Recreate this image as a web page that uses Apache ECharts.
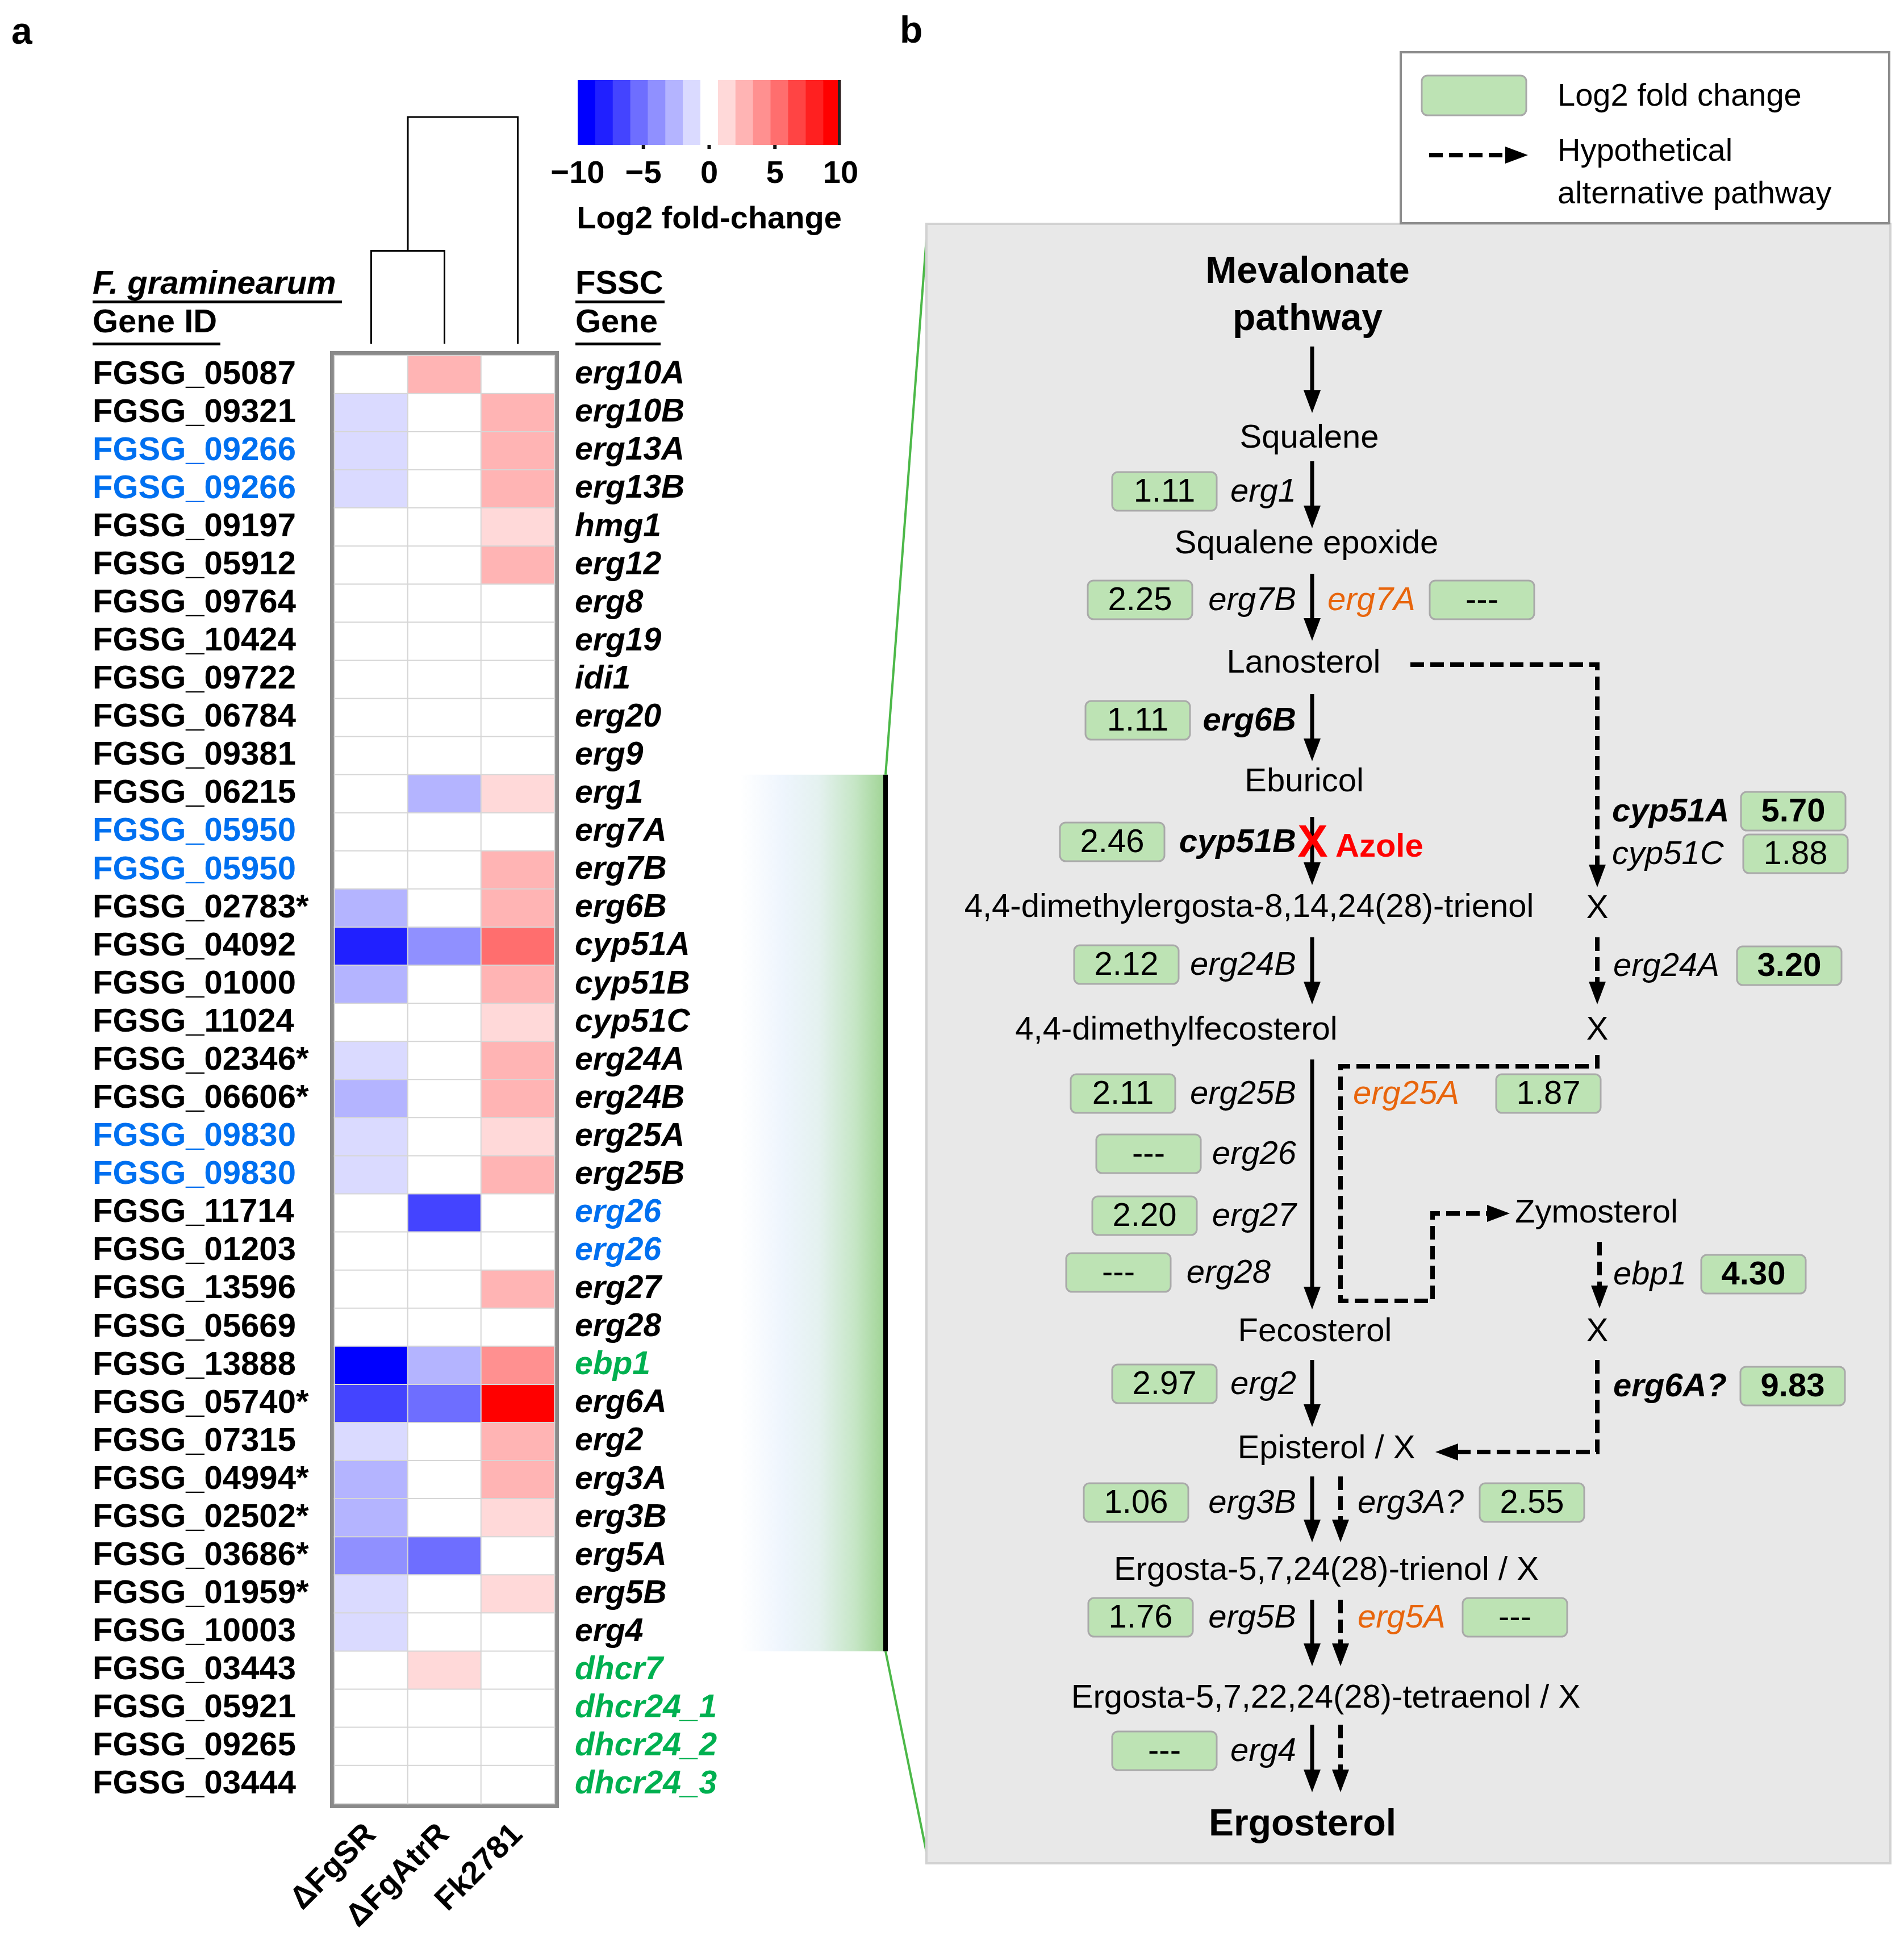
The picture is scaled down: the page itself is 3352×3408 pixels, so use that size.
<!DOCTYPE html>
<html><head><meta charset="utf-8">
<script src="https://cdn.jsdelivr.net/npm/echarts@6/dist/echarts.min.js"></script>
<style>html,body{margin:0;padding:0;background:#fff}#c{width:3352px;height:3408px}</style>
</head><body><div id="c"></div>
<script>
// ---------------- DATA ----------------
const conditions = ['ΔFgSR', 'ΔFgAtrR', 'Fk2781'];
const geneIds = ['FGSG_05087','FGSG_09321','FGSG_09266','FGSG_09266','FGSG_09197','FGSG_05912','FGSG_09764','FGSG_10424','FGSG_09722','FGSG_06784','FGSG_09381','FGSG_06215','FGSG_05950','FGSG_05950','FGSG_02783*','FGSG_04092','FGSG_01000','FGSG_11024','FGSG_02346*','FGSG_06606*','FGSG_09830','FGSG_09830','FGSG_11714','FGSG_01203','FGSG_13596','FGSG_05669','FGSG_13888','FGSG_05740*','FGSG_07315','FGSG_04994*','FGSG_02502*','FGSG_03686*','FGSG_01959*','FGSG_10003','FGSG_03443','FGSG_05921','FGSG_09265','FGSG_03444'];
const geneNames = ['erg10A','erg10B','erg13A','erg13B','hmg1','erg12','erg8','erg19','idi1','erg20','erg9','erg1','erg7A','erg7B','erg6B','cyp51A','cyp51B','cyp51C','erg24A','erg24B','erg25A','erg25B','erg26','erg26','erg27','erg28','ebp1','erg6A','erg2','erg3A','erg3B','erg5A','erg5B','erg4','dhcr7','dhcr24_1','dhcr24_2','dhcr24_3'];
// rows whose gene ID is shown in blue (shared IDs), gene names in blue / green
const sharedIdRows = [2,3,12,13,20,21];
const duplicatedNameRows = [22,23];
const sterolReductaseRows = [26,34,35,36,37];
// log2 fold-change values
const lfcSR   = [0,-1.4,-1.4,-1.4,0,0,0,0,0,0,0,0,0,0,-2.7,-8.0,-2.7,0,-1.4,-2.7,-1.4,-1.4,0,0,0,0,-9.4,-6.7,-1.4,-2.7,-2.7,-4.0,-1.4,-1.4,0,0,0,0];
const lfcAtrR = [2.6,0,0,0,0,0,0,0,0,0,0,-2.7,0,0,0,-4.0,0,0,0,0,0,0,-6.7,0,0,0,-2.7,-5.3,0,0,0,-5.3,0,0,1.4,0,0,0];
const lfcFk   = [0,2.6,2.6,2.6,1.3,2.6,0,0,0,0,0,1.11,0,2.25,2.4,5.70,2.46,1.88,3.20,2.12,1.87,2.11,0,0,2.20,0,4.30,9.83,2.97,2.55,1.06,0,1.76,0,0,0,0,0];
// highlighted block (erg1 .. erg4)
const pathwayBlock = [11, 33];
// dendrogram merges: left position, right position, merge height, left child height, right child height
const dendroLeft = [0, 0.5];
const dendroRight = [1, 2];
const dendroHeight = [0.41, 1.0];
const dendroLeftH = [0, 0.41];
const dendroRightH = [0, 0];
// colour scale
const scaleTicks = [-10, -5, 0, 5, 10];
const scaleInnerTicks = [-5, 0, 5];
const scaleSteps = 15;

// pathway panel content
const metaboliteNames = ['Mevalonate','pathway','Squalene','Squalene epoxide','Lanosterol','Eburicol','4,4-dimethylergosta-8,14,24(28)-trienol','X','4,4-dimethylfecosterol','X','Zymosterol','Fecosterol','X','Episterol / X','Ergosta-5,7,24(28)-trienol / X','Ergosta-5,7,22,24(28)-tetraenol / X','Ergosterol'];
const pathwayGenes = ['erg1','erg7B','erg7A','erg6B','cyp51B','cyp51A','cyp51C','erg24B','erg24A','erg25B','erg25A','erg26','erg27','erg28','ebp1','erg2','erg6A?','erg3B','erg3A?','erg5B','erg5A','erg4'];
const pathwayFC = [1.11,2.25,null,1.11,2.46,5.70,1.88,2.12,3.20,2.11,1.87,null,2.20,null,4.30,2.97,9.83,1.06,2.55,1.76,null,null];

// ---------------- LAYOUT / STYLE ----------------
const FONT = '"Liberation Sans", Arial, sans-serif';
const fnt = (size, bold, italic) => `${italic ? 'italic ' : ''}${bold ? 'bold ' : ''}${size}px ${FONT}`;
const blueC = '#0070F0', greenC = '#00B050', orangeC = '#E8650C';
const blues = ['#0000ff','#2020ff','#4444ff','#6e6eff','#9090ff','#b4b4ff','#dadaff'];
const reds = ['#ffd9d9','#ffb4b4','#ff9090','#ff6e6e','#ff4444','#ff2020','#ff0000'];
const stepColors = blues.concat(['#ffffff'], reds);
const stepW = 20 / scaleSteps;
const pieces = stepColors.map((c, k) => {
  const p = {color: c};
  if (k > 0) p.gte = -10 + k * stepW;
  if (k < scaleSteps - 1) p.lt = -10 + (k + 1) * stepW;
  return p;
});

// metabolite layout [x, y, align, bold]
const metaboliteLayout = [
  [2302,480,'center',true],[2302,563,'center',true],[2305,772,'center'],[2300,958,'center'],[2295,1168,'center'],
  [2296,1377,'center'],[2199,1598,'center'],[2812,1600,'center'],[2071,1814,'center'],[2812,1814,'center'],
  [2667,2136,'left'],[2315,2345,'center'],[2812,2345,'center'],[2335,2551,'center'],[2335,2765,'center'],
  [2334,2990,'center'],[2293,3213,'center',true]
];
// enzyme layout [boxCx, cy, labelX, labelAlign, labelBold, valueBold, orange]
const enzymeLayout = [
  [2050,865,2282,'right'],[2007,1056,2282,'right'],[2609,1056,2337,'left',0,0,1],[2003,1268,2282,'right',1],
  [1958,1482,2282,'right',1],[3157,1428,2838,'left',1,1],[3161,1503,2838,'left'],[1983,1698,2282,'right'],
  [3150,1700,2840,'left',0,1],[1977,1925,2282,'right'],[2726,1925,2382,'left',0,0,1],[2022,2031,2282,'right'],
  [2015,2140,2282,'right'],[1969,2240,2237,'right'],[3087,2243,2840,'left',0,1],[2050,2436,2282,'right'],
  [3156,2440,2840,'left',1,1],[2000,2645,2282,'right'],[2697,2645,2390,'left'],[2008,2847,2282,'right'],
  [2667,2847,2390,'left',0,0,1],[2050,3082,2282,'right']
];
const mainX = 2310, altX = 2360;
const solidArrows = [[610,727],[812,930],[1010,1128],[1222,1340],[1438,1558],[1650,1768],[1865,2305],[2394,2512],[2599,2715],[2816,2933],[3036,3155]];
const parallelDashed = [[2599,2715],[2816,2933],[3036,3155]];
const dashedPaths = [
  [[2483,1170],[2812,1170],[2812,1562]],
  [[2812,1650],[2812,1768]],
  [[2812,1857],[2812,1877],[2360,1877],[2360,2290],[2522,2290],[2522,2136],[2658,2136]],
  [[2816,2186],[2816,2303]],
  [[2812,2394],[2812,2556],[2527,2556]]
];
const panel = {x0:1631, y0:394, x1:3328, y1:3280};

// ---------------- BUILD DIAGRAM ITEMS ----------------
const items = [];
items.push({k:'panel'});
items.push({k:'legend'});
solidArrows.forEach(a => items.push({k:'arrow', pts:[[mainX,a[0]],[mainX,a[1]]], dashed:false}));
parallelDashed.forEach(a => items.push({k:'arrow', pts:[[altX,a[0]],[altX,a[1]]], dashed:true}));
dashedPaths.forEach(p => items.push({k:'arrow', pts:p, dashed:true}));
metaboliteNames.forEach((n, i) => items.push({k:'met', i}));
pathwayGenes.forEach((g, i) => items.push({k:'enz', i}));
items.push({k:'azole'});

function arrowEls(api, pts, dashed) {
  const p = pts.map(q => api.coord(q));
  const n = p.length, a = p[n - 2], b = p[n - 1];
  const dx = b[0] - a[0], dy = b[1] - a[1], L = Math.hypot(dx, dy);
  const d = [dx / L, dy / L];
  const HL = 40, HW = 30;
  const line = p.slice(0, n - 1).concat([[b[0] - d[0] * (HL - 6), b[1] - d[1] * (HL - 6)]]);
  const bx = b[0] - d[0] * HL, by = b[1] - d[1] * HL, px = -d[1], py = d[0];
  return [
    {type:'polyline', shape:{points:line}, style:{stroke:'#000', lineWidth: dashed ? 8 : 7, lineDash: dashed ? [24, 11] : null, fill:null}},
    {type:'polygon', shape:{points:[b, [bx + px * HW / 2, by + py * HW / 2], [bx - px * HW / 2, by - py * HW / 2]]}, style:{fill:'#000'}}
  ];
}
function textEl(api, x, y, text, o) {
  const c = api.coord([x, y]);
  return {type:'text', x:c[0], y:c[1], style:{text, fill:o.color || '#000', font:fnt(o.size || 58, o.bold, o.italic),
    textAlign:o.align || 'center', textVerticalAlign:'middle', align:o.align || 'center', verticalAlign:'middle'}};
}
function boxEl(api, cx, cy, w, h) {
  const c = api.coord([cx - w / 2, cy - h / 2]);
  return {type:'rect', shape:{x:c[0], y:c[1], width:w, height:h, r:10}, style:{fill:'#bde3b4', stroke:'#a9a9a9', lineWidth:3}};
}
function renderDiagram(params, api) {
  const it = items[params.dataIndex];
  let ch = [];
  if (it.k === 'panel') {
    const a = api.coord([panel.x0, panel.y0]), b = api.coord([panel.x1, panel.y1]);
    ch.push({type:'rect', shape:{x:a[0], y:a[1], width:b[0] - a[0], height:b[1] - a[1]}, style:{fill:'#e8e8e8', stroke:'#d2d2d2', lineWidth:4}});
  } else if (it.k === 'legend') {
    const a = api.coord([2466, 92]), b = api.coord([3326, 393]);
    ch.push({type:'rect', shape:{x:a[0], y:a[1], width:b[0] - a[0], height:b[1] - a[1]}, style:{fill:'#fff', stroke:'#8c8c8c', lineWidth:4}});
    ch.push(boxEl(api, 2595, 168, 184, 70));
    ch.push(textEl(api, 2742, 171, 'Log2 fold change', {align:'left', size:56}));
    ch = ch.concat(arrowEls(api, [[2516, 273], [2690, 273]], true));
    ch.push(textEl(api, 2742, 268, 'Hypothetical', {align:'left', size:56}));
    ch.push(textEl(api, 2742, 343, 'alternative pathway', {align:'left', size:56}));
  } else if (it.k === 'arrow') {
    ch = arrowEls(api, it.pts, it.dashed);
  } else if (it.k === 'met') {
    const L = metaboliteLayout[it.i];
    ch.push(textEl(api, L[0], L[1], metaboliteNames[it.i], {align:L[2], bold:L[3], size:L[3] ? 66 : 58}));
  } else if (it.k === 'enz') {
    const L = enzymeLayout[it.i];
    const v = pathwayFC[it.i];
    ch.push(boxEl(api, L[0], L[1], 184, 68));
    ch.push(textEl(api, L[0], L[1] + 2, v == null ? '---' : v.toFixed(2), {bold:!!L[5], size:58}));
    ch.push(textEl(api, L[2], L[1] + 2, pathwayGenes[it.i], {align:L[3], italic:true, bold:!!L[4], color:L[6] ? orangeC : '#000', size:58}));
  } else if (it.k === 'azole') {
    ch.push(textEl(api, 2311, 1486, 'X', {bold:true, size:80, color:'#ff0000'}));
    ch.push(textEl(api, 2351, 1492, 'Azole', {bold:true, size:58, color:'#ff0000', align:'left'}));
  }
  return {type:'group', children:ch};
}

// highlighted-block band and connector lines (on heatmap coordinates)
function renderBand(params, api) {
  const s = api.value(1), e = api.value(2);
  const cs = api.coord([2, s]), ce = api.coord([2, e]);
  const sz = api.size([1, 1]);
  const top = cs[1] - sz[1] / 2, bot = ce[1] + sz[1] / 2;
  const right = cs[0] + sz[0] / 2;
  const barX = right + 579, bandX = right + 327;
  return {type:'group', children:[
    {type:'rect', shape:{x:bandX, y:top, width:barX - bandX, height:bot - top},
      style:{fill:new echarts.graphic.LinearGradient(0, 0, 1, 0, [
        {offset:0, color:'rgba(255,255,255,1)'}, {offset:0.3, color:'#eef5fd'}, {offset:0.55, color:'#e4f1ef'},
        {offset:0.8, color:'#c6e6c6'}, {offset:1, color:'#a2d597'}])}},
    {type:'rect', shape:{x:barX, y:top, width:8, height:bot - top}, style:{fill:'#000'}},
    {type:'line', shape:{x1:barX + 4, y1:top, x2:panel.x0 + 2, y2:panel.y0}, style:{stroke:'#4cb848', lineWidth:4}},
    {type:'line', shape:{x1:barX + 4, y1:bot, x2:panel.x0 + 4, y2:panel.y1}, style:{stroke:'#4cb848', lineWidth:4}}
  ]};
}

function renderDendro(params, api) {
  const pts = [[api.value(0), api.value(3)], [api.value(0), api.value(2)], [api.value(1), api.value(2)], [api.value(1), api.value(4)]].map(p => api.coord(p));
  return {type:'polyline', shape:{points:pts}, style:{stroke:'#000', lineWidth:3, fill:null}};
}

function renderScale(params, api) {
  const k = api.value(0);
  const lo = -10 + k * stepW, hi = lo + stepW;
  const a = api.coord([lo, 1]), b = api.coord([hi, 0]);
  const ch = [{type:'rect', shape:{x:a[0], y:a[1], width:b[0] - a[0] + 0.6, height:b[1] - a[1]}, style:{fill:stepColors[k]}}];
  if (k === scaleSteps - 1) ch.push({type:'rect', shape:{x:b[0] - 5, y:a[1], width:5, height:b[1] - a[1]}, style:{fill:'#1a2a2a'}});
  return {type:'group', children:ch};
}
function renderScaleTick(params, api) {
  const p = api.coord([api.value(0), 0]);
  return {type:'rect', shape:{x:p[0] - 3, y:p[1], width:6, height:7}, style:{fill:'#111'}};
}

// heatmap data
const cols = [lfcSR, lfcAtrR, lfcFk];
const heatData = [];
cols.forEach((arr, c) => arr.forEach((v, r) => heatData.push([c, r, v])));

const baseLabel = {fontFamily:FONT, fontWeight:'bold', color:'#000'};
const richK = (size, italic) => ({
  k:{color:'#000', fontSize:size, fontWeight:'bold', fontStyle:italic ? 'italic' : 'normal', fontFamily:FONT},
  b:{color:blueC, fontSize:size, fontWeight:'bold', fontStyle:italic ? 'italic' : 'normal', fontFamily:FONT},
  g:{color:greenC, fontSize:size, fontWeight:'bold', fontStyle:italic ? 'italic' : 'normal', fontFamily:FONT}
});

const option = {
  backgroundColor:'#fff',
  animation:false,
  grid:[
    {left:589, top:626, width:387, height:2549, show:true, borderColor:'#8a8a8a', borderWidth:16, backgroundColor:'transparent', containLabel:false, outerBoundsMode:'none'},
    {left:589, top:206, width:387, height:399, containLabel:false, outerBoundsMode:'none'},
    {left:1017, top:141, width:463, height:114, containLabel:false, outerBoundsMode:'none'},
    {left:0, top:0, width:3352, height:3408, containLabel:false, outerBoundsMode:'none'}
  ],
  xAxis:[
    {gridIndex:0, type:'category', data:conditions, position:'bottom', axisLine:{show:false}, axisTick:{show:false}, splitLine:{show:false},
      axisLabel:Object.assign({}, baseLabel, {interval:0, rotate:45, margin:46, fontSize:56})},
    {gridIndex:1, type:'value', min:-0.5, max:2.5, show:false},
    {gridIndex:2, type:'value', min:-10, max:10, interval:5, axisLine:{show:false}, axisTick:{show:false}, splitLine:{show:false},
      axisLabel:Object.assign({}, baseLabel, {fontSize:56, margin:24, formatter:v => String(v).replace('-', '\u2212')}),
      name:'Log2 fold-change', nameLocation:'middle', nameGap:104, nameTextStyle:{fontFamily:FONT, fontWeight:'bold', fontSize:56, color:'#000'}},
    {gridIndex:3, type:'value', min:0, max:3352, show:false}
  ],
  yAxis:[
    {gridIndex:0, type:'category', data:geneIds, inverse:true, position:'left', axisLine:{show:false}, axisTick:{show:false}, splitLine:{show:false},
      axisLabel:{interval:0, margin:426, align:'left', fontSize:58, fontFamily:FONT, fontWeight:'bold', color:'#000',
        formatter:(v, i) => (sharedIdRows.includes(i) ? '{b|' : '{k|') + v + '}', rich:richK(58, false)}},
    {gridIndex:0, type:'category', data:geneNames, inverse:true, position:'right', axisLine:{show:false}, axisTick:{show:false}, splitLine:{show:false},
      axisLabel:{interval:0, margin:36, align:'left', fontSize:57, fontFamily:FONT, fontWeight:'bold', fontStyle:'italic', color:'#000',
        formatter:(v, i) => (duplicatedNameRows.includes(i) ? '{b|' : sterolReductaseRows.includes(i) ? '{g|' : '{k|') + v + '}', rich:richK(57, true)}},
    {gridIndex:1, type:'value', min:0, max:1, show:false},
    {gridIndex:2, type:'value', min:0, max:1, show:false},
    {gridIndex:3, type:'value', min:0, max:3408, inverse:true, show:false}
  ],
  visualMap:{type:'piecewise', show:false, seriesIndex:0, dimension:2, pieces:pieces},
  series:[
    {type:'heatmap', xAxisIndex:0, yAxisIndex:0, data:heatData, itemStyle:{borderColor:'#d6d6d6', borderWidth:2}, emphasis:{disabled:true}, z:3},
    {type:'custom', xAxisIndex:3, yAxisIndex:4, data:items.map((d, i) => [i, 0]), renderItem:renderDiagram, z:2, silent:true},
    {type:'custom', xAxisIndex:0, yAxisIndex:0, data:[[2, pathwayBlock[0], pathwayBlock[1]]], encode:{x:0, y:1}, renderItem:renderBand, z:1, silent:true},
    {type:'custom', xAxisIndex:1, yAxisIndex:2, data:dendroLeft.map((l, i) => [l, dendroRight[i], dendroHeight[i], dendroLeftH[i], dendroRightH[i]]), encode:{x:[0, 1], y:2}, renderItem:renderDendro, silent:true},
    {type:'custom', xAxisIndex:2, yAxisIndex:3, data:stepColors.map((c, k) => [k, 0]), encode:{x:0, y:1}, renderItem:renderScale, silent:true},
    {type:'custom', xAxisIndex:2, yAxisIndex:3, data:scaleInnerTicks.map(t => [t, 0]), encode:{x:0, y:1}, renderItem:renderScaleTick, silent:true}
  ],
  graphic:[
    {type:'text', left:20, top:26, style:{text:'a', font:fnt(66, true), fill:'#000'}},
    {type:'text', left:1584, top:24, style:{text:'b', font:fnt(66, true), fill:'#000'}},
    {type:'text', left:163, top:472, style:{text:'F. graminearum', font:fnt(58, true, true), fill:'#000'}},
    {type:'text', left:163, top:540, style:{text:'Gene ID', font:fnt(58, true), fill:'#000'}},
    {type:'text', left:1013, top:472, style:{text:'FSSC', font:fnt(58, true), fill:'#000'}},
    {type:'text', left:1013, top:540, style:{text:'Gene', font:fnt(58, true), fill:'#000'}},
    {type:'rect', left:163, top:529, shape:{width:439, height:5}, style:{fill:'#000'}},
    {type:'rect', left:163, top:603, shape:{width:225, height:5}, style:{fill:'#000'}},
    {type:'rect', left:1013, top:529, shape:{width:157, height:5}, style:{fill:'#000'}},
    {type:'rect', left:1013, top:603, shape:{width:150, height:5}, style:{fill:'#000'}}
  ]
};
const chart = echarts.init(document.getElementById('c'), null, {width:3352, height:3408});
chart.setOption(option);
</script></body></html>
